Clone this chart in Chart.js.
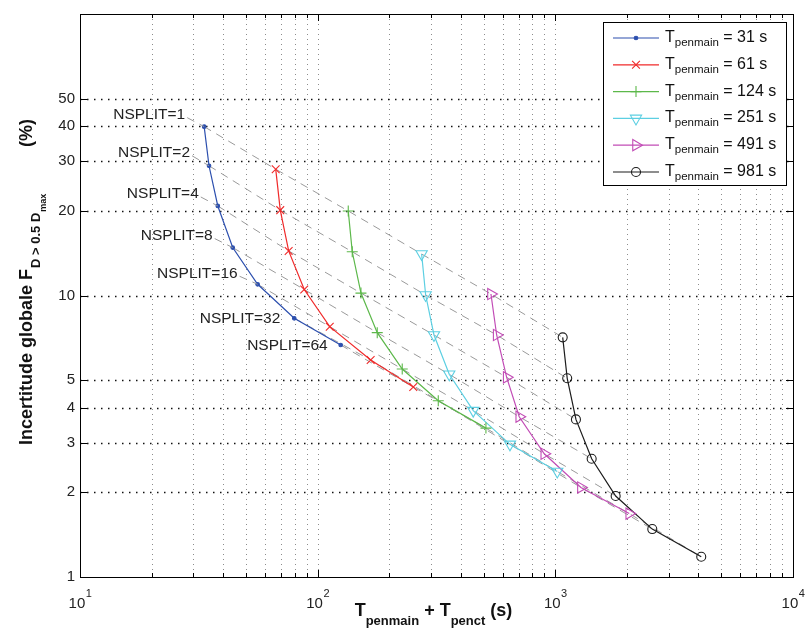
<!DOCTYPE html>
<html>
<head>
<meta charset="utf-8">
<script src="https://cdn.jsdelivr.net/npm/chart.js@4.4.1/dist/chart.umd.min.js"></script>
<style>
  html, body { margin: 0; padding: 0; background: #fff; }
  #wrap { width: 805px; height: 628px; }
</style>
</head>
<body>
<div id="wrap"><canvas id="chart" width="805" height="628"></canvas></div>
<script>
// T_penmain values of the six curves (s)
const penmainValues = ["31", "61", "124", "251", "491", "981"];
const nsplitLabels = ["NSPLIT=1", "NSPLIT=2", "NSPLIT=4", "NSPLIT=8", "NSPLIT=16", "NSPLIT=32", "NSPLIT=64"];

// x = Tpenmain + Tpenct (s), y = incertitude globale (%)
const t31 = [33.3, 34.9, 38.0, 43.9, 55.9, 79.7, 125];
const f31 = [39.8, 28.9, 20.8, 14.8, 10.96, 8.30, 6.67];
const t61 = [66.6, 69.6, 75.5, 87.8, 112.4, 167.1, 252.5];
const f61 = [28.1, 20.1, 14.4, 10.5, 7.75, 5.90, 4.73];
const t124 = [134.5, 139.8, 152.1, 178.1, 226.9, 321.7, 510.5];
const f124 = [19.96, 14.3, 10.2, 7.38, 5.48, 4.23, 3.38];
const t251 = [273.8, 284.7, 308.6, 357.8, 451.5, 644.2, 1019];
const f251 = [14.04, 10.04, 7.24, 5.25, 3.90, 2.96, 2.37];
const t491 = [535.9, 566.4, 624.1, 704.8, 898.3, 1281, 2046];
const f491 = [10.12, 7.24, 5.12, 3.71, 2.74, 2.08, 1.68];
const t981 = [1074, 1122, 1221, 1422, 1794, 2558, 4111];
const f981 = [7.10, 5.08, 3.63, 2.63, 1.94, 1.48, 1.18];

const yTicks = [1, 2, 3, 4, 5, 10, 20, 30, 40, 50];
const xMajorTicks = [10, 100, 1000, 10000];
const xMinorTicks = [20, 30, 40, 50, 60, 70, 80, 90, 200, 300, 400, 500, 600, 700, 800, 900,
  2000, 3000, 4000, 5000, 6000, 7000, 8000, 9000];

const seriesX = [t31, t61, t124, t251, t491, t981];
const seriesY = [f31, f61, f124, f251, f491, f981];

const colors = ["#2c4fae", "#f02a2a", "#5cb84a", "#5ccfe2", "#c24cb6", "#1c1c1c"];
const markers = [
  { style: "circle", radius: 1.8, filled: true },
  { style: "crossRot", radius: 5.5 },
  { style: "cross", radius: 5.5 },
  { style: "triangle", radius: 6.5, rotation: 180 },
  { style: "triangle", radius: 6.5, rotation: 90 },
  { style: "circle", radius: 4.5 },
];
const FONT = "'Liberation Sans', Arial, sans-serif";

const datasets = seriesX.map((xs, i) => ({
  label: "Tpenmain = " + penmainValues[i] + " s",
  data: xs.map((x, j) => ({ x: x, y: seriesY[i][j] })),
  borderColor: colors[i],
  backgroundColor: colors[i],
  borderWidth: 1.2,
  pointStyle: markers[i].style,
  pointRadius: markers[i].radius,
  pointRotation: markers[i].rotation || 0,
  pointBorderColor: colors[i],
  pointBackgroundColor: markers[i].filled ? colors[i] : "rgba(0,0,0,0)",
  pointBorderWidth: 1.1,
  fill: false,
  tension: 0,
}));

// dashed lines joining the same NSPLIT on every curve
nsplitLabels.forEach((lab, k) => {
  datasets.push({
    label: lab,
    data: seriesX.map((xs, i) => ({ x: xs[k], y: seriesY[i][k] })),
    borderColor: "#9a9a9a",
    borderWidth: 1,
    borderDash: [8, 6],
    pointRadius: 0,
    fill: false,
    tension: 0,
  });
});

// label offsets from the blue point (px)
const labelDx = [-19, -19, -19, -20, -20, -14, -13];
const labelDy = [-12, -13, -12, -12, -11, 0, 1];

const decorPlugin = {
  id: "decor",
  beforeDatasetsDraw(chart) {
    const { ctx, chartArea: a, scales } = chart;
    ctx.save();
    // vertical grid
    ctx.strokeStyle = "#8c8c8c";
    ctx.lineWidth = 1;
    ctx.setLineDash([1, 4]);
    xMinorTicks.concat([100, 1000]).forEach((v) => {
      const px = Math.round(scales.x.getPixelForValue(v)) + 0.5;
      ctx.beginPath();
      ctx.moveTo(px, a.top);
      ctx.lineTo(px, a.bottom);
      ctx.stroke();
    });
    // horizontal grid
    ctx.strokeStyle = "#111";
    ctx.lineWidth = 1.4;
    ctx.setLineDash([1.5, 5.5]);
    yTicks.forEach((v) => {
      if (v === 1) return;
      const py = Math.round(scales.y.getPixelForValue(v)) + 0.5;
      ctx.beginPath();
      ctx.moveTo(a.left, py);
      ctx.lineTo(a.right, py);
      ctx.stroke();
    });
    ctx.restore();
  },
  afterDatasetsDraw(chart) {
    const { ctx, chartArea: a, scales } = chart;
    ctx.save();
    ctx.setLineDash([]);
    ctx.strokeStyle = "#000";
    ctx.lineWidth = 1;
    // frame
    ctx.strokeRect(a.left + 0.5, a.top + 0.5, a.right - a.left, a.bottom - a.top);
    // inward tick marks
    ctx.beginPath();
    xMajorTicks.concat(xMinorTicks).forEach((v) => {
      const px = Math.round(scales.x.getPixelForValue(v)) + 0.5;
      const len = xMajorTicks.includes(v) ? 7 : 4;
      ctx.moveTo(px, a.bottom);
      ctx.lineTo(px, a.bottom - len);
      ctx.moveTo(px, a.top);
      ctx.lineTo(px, a.top + len);
    });
    yTicks.forEach((v) => {
      const py = Math.round(scales.y.getPixelForValue(v)) + 0.5;
      ctx.moveTo(a.left, py);
      ctx.lineTo(a.left + 7, py);
      ctx.moveTo(a.right, py);
      ctx.lineTo(a.right - 7, py);
    });
    ctx.stroke();

    // x tick labels 10^n
    ctx.fillStyle = "#222";
    ctx.textAlign = "left";
    ctx.textBaseline = "alphabetic";
    xMajorTicks.forEach((v) => {
      const px = scales.x.getPixelForValue(v);
      const exp = String(Math.round(Math.log10(v)));
      ctx.font = "15px " + FONT;
      const bw = ctx.measureText("10").width;
      ctx.font = "11px " + FONT;
      const ew = ctx.measureText(exp).width;
      const x0 = px - (bw + ew) / 2;
      ctx.font = "15px " + FONT;
      ctx.fillText("10", x0, 608);
      ctx.font = "11px " + FONT;
      ctx.fillText(exp, x0 + bw + 0.5, 597);
    });

    // x axis title
    const xParts = [
      ["T", "bold 18px ", 0], ["penmain", "bold 13px ", 9], [" + T", "bold 18px ", 0],
      ["penct", "bold 13px ", 9], [" (s)", "bold 18px ", 0],
    ];
    let tw = 0;
    xParts.forEach((p) => { ctx.font = p[1] + FONT; tw += ctx.measureText(p[0]).width; });
    let cx = (a.left + a.right) / 2 - 3 - tw / 2;
    ctx.fillStyle = "#111";
    xParts.forEach((p) => {
      ctx.font = p[1] + FONT;
      ctx.fillText(p[0], cx, 616 + p[2]);
      cx += ctx.measureText(p[0]).width;
    });

    // y axis title (rotated)
    ctx.save();
    ctx.translate(32, 445);
    ctx.rotate(-Math.PI / 2);
    let yx = 0;
    ctx.font = "bold 18px " + FONT;
    ctx.fillText("Incertitude globale F", yx, 0);
    yx += ctx.measureText("Incertitude globale F").width + 1;
    ctx.font = "bold 13px " + FONT;
    ctx.fillText("D > 0.5 D", yx, 8);
    yx += ctx.measureText("D > 0.5 D").width + 1;
    ctx.font = "bold 9px " + FONT;
    ctx.fillText("max", yx, 14);
    ctx.font = "bold 18px " + FONT;
    ctx.fillText("(%)", 445 - 147, 0);
    ctx.restore();

    // NSPLIT labels with leaders
    const blue = chart.getDatasetMeta(0).data;
    ctx.font = "15.5px " + FONT;
    ctx.fillStyle = "#222";
    ctx.textAlign = "right";
    ctx.textBaseline = "middle";
    nsplitLabels.forEach((lab, k) => {
      const p = blue[k];
      const tx = p.x + labelDx[k];
      const ty = p.y + labelDy[k];
      ctx.fillText(lab, tx, ty);
      if (labelDy[k] < -5) {
        ctx.save();
        ctx.strokeStyle = "#9a9a9a";
        ctx.setLineDash([8, 6]);
        ctx.beginPath();
        ctx.moveTo(tx + 2, ty + 3);
        ctx.lineTo(p.x, p.y);
        ctx.stroke();
        ctx.restore();
      }
    });

    // legend
    const lx = 603, ly = 22, lw = 183, lh = 163;
    ctx.setLineDash([]);
    ctx.fillStyle = "#fff";
    ctx.fillRect(lx, ly, lw, lh);
    ctx.strokeStyle = "#000";
    ctx.lineWidth = 1;
    ctx.strokeRect(lx + 0.5, ly + 0.5, lw, lh);
    ctx.textAlign = "left";
    ctx.textBaseline = "alphabetic";
    for (let i = 0; i < seriesX.length; i++) {
      const ds = chart.data.datasets[i];
      const ry = 38 + i * 26.8;
      ctx.strokeStyle = ds.borderColor;
      ctx.lineWidth = 1.2;
      ctx.beginPath();
      ctx.moveTo(613, ry);
      ctx.lineTo(659, ry);
      ctx.stroke();
      ctx.fillStyle = ds.pointBackgroundColor;
      ctx.lineWidth = 1.1;
      Chart.helpers.drawPoint(ctx, {
        pointStyle: ds.pointStyle, rotation: ds.pointRotation,
        radius: ds.pointRadius, borderWidth: 1.1,
      }, 636, ry);
      ctx.fillStyle = "#111";
      ctx.font = "16px " + FONT;
      let x = 665;
      ctx.fillText("T", x, ry + 4);
      x += ctx.measureText("T").width;
      ctx.font = "11.5px " + FONT;
      ctx.fillText("penmain", x, ry + 8);
      x += ctx.measureText("penmain").width;
      ctx.font = "16px " + FONT;
      ctx.fillText(" = " + penmainValues[i] + " s", x, ry + 4);
    }
    ctx.restore();
  },
};

new Chart(document.getElementById("chart"), {
  type: "line",
  data: { datasets: datasets },
  options: {
    responsive: false,
    animation: false,
    devicePixelRatio: 1,
    events: [],
    layout: { padding: { top: 14, right: 12, left: 0, bottom: 0 } },
    plugins: { legend: { display: false }, tooltip: { enabled: false } },
    scales: {
      x: {
        type: "logarithmic",
        min: 10,
        max: 10000,
        grid: { display: false, drawTicks: false },
        border: { display: false },
        ticks: { display: false },
        afterFit: (s) => { s.height = 51; },
      },
      y: {
        type: "logarithmic",
        min: 1,
        max: 100,
        grid: { display: false, drawTicks: false },
        border: { display: false },
        afterBuildTicks: (s) => { s.ticks = yTicks.map((v) => ({ value: v })); },
        ticks: {
          autoSkip: false,
          padding: 5,
          color: "#222",
          font: { family: FONT, size: 15 },
          callback: (v) => String(v),
        },
        afterFit: (s) => { s.width = 80; },
      },
    },
  },
  plugins: [decorPlugin],
});
</script>
</body>
</html>
